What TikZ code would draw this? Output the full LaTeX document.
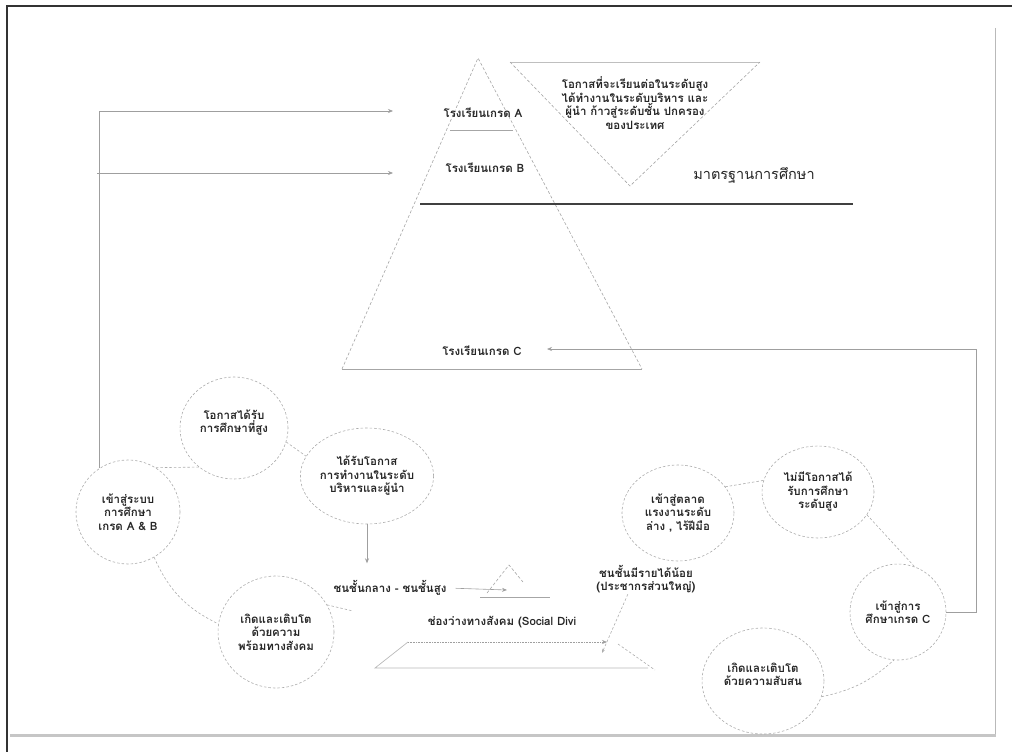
\documentclass[tikz,border=0pt]{standalone}
\usepackage{fontspec}
\newfontfamily\thai[Script=Thai]{Loma}
\usetikzlibrary{shapes.geometric,arrows.meta}

\begin{document}
\begin{tikzpicture}[
  x=1pt, y=-1pt,
  every node/.style={font=\thai\bfseries\fontsize{11.5}{13.5}\selectfont, text=black!85, align=center, inner sep=1pt},
  bubble/.style={ellipse, draw=gray!65, dash pattern=on 2.5pt off 2pt, line width=0.6pt, inner sep=0pt},
  link/.style={draw=gray!65, dash pattern=on 2.5pt off 2pt, line width=0.6pt},
  edge/.style={draw=gray!70, dash pattern=on 3pt off 2pt, line width=0.6pt},
  arr/.style={draw=gray!75, line width=0.6pt, -{Stealth[length=5pt,width=4pt]}},
  rule/.style={draw=gray!70, line width=0.7pt}
]
\useasboundingbox (0,0) rectangle (1018,752);

% frame
\draw[black!80, line width=1.4pt] (7,752) -- (7,6) -- (1012,6);
\draw[gray!55, line width=0.8pt] (995,28) -- (995,735);
\draw[gray!45, line width=3pt] (10,735) -- (996,735);

% pyramid
\coordinate (top) at (478,58);
\coordinate (baseL) at (342,369);
\coordinate (baseR) at (642,369);
\draw[edge] (baseL) -- (top) -- (baseR);
\draw[rule] (baseL) -- (baseR);
\draw[rule] (450,130) -- (513,130);
\draw[gray!50!black, line width=2pt] (420,204) -- (853,204);

% inverted triangle
\coordinate (vL) at (510,62);
\coordinate (vR) at (760,62);
\coordinate (vTip) at (630,186);
\draw[rule, gray!50] (vL) -- (vR);
\draw[edge] (vL) -- (vTip) -- (vR);

\node (gradeA) at (483,113) {โรงเรียนเกรด A};
\node (gradeB) at (485,168) {โรงเรียนเกรด B};
\node (gradeC) at (482,351) {โรงเรียนเกรด C};
\node (chance) at (635,103) {โอกาสที่จะเรียนต่อในระดับสูง\\ได้ทำงานในระดับบริหาร และ\\ผู้นำ ก้าวสู่ระดับชั้น ปกครอง\\ของประเทศ};
\node[font=\thai\fontsize{14.5}{16}\selectfont] (standard) at (754,175) {มาตรฐานการศึกษา};

% circles, left loop
\node[bubble, minimum width=108pt, minimum height=102pt] (cEduHigh) at (234,428) {โอกาสได้รับ\\การศึกษาที่สูง\\~};
\node[bubble, minimum width=126pt, minimum height=96pt] (cLead) at (367,476) {ได้รับโอกาส\\การทำงานในระดับ\\บริหารและผู้นำ};
\node[bubble, minimum width=104pt, minimum height=104pt] (cEnterAB) at (128,512) {เข้าสู่ระบบ\\การศึกษา\\เกรด A \& B};
\node[bubble, minimum width=116pt, minimum height=112pt] (cBornReady) at (276,632) {เกิดและเติบโต\\ด้วยความ\\พร้อมทางสังคม};

% circles, right loop
\node[bubble, minimum width=112pt, minimum height=96pt] (cLabour) at (678,513) {เข้าสู่ตลาด\\แรงงานระดับ\\ล่าง , ไร้ฝีมือ};
\node[bubble, minimum width=112pt, minimum height=92pt] (cNoChance) at (818,492) {ไม่มีโอกาสได้\\รับการศึกษา\\ระดับสูง};
\node[bubble, minimum width=96pt, minimum height=96pt] (cEnterC) at (898,612) {เข้าสู่การ\\ศึกษาเกรด C};
\node[bubble, minimum width=122pt, minimum height=106pt] (cBornConf) at (763,681) {เกิดและเติบโต\\ด้วยความสับสน\\~};

% social classes
\node (middle) at (390,588) {ชนชั้นกลาง - ชนชั้นสูง};
\node (gap) at (502,622) {ช่องว่างทางสังคม (Social Divi};
\node (low) at (646,579) {ชนชั้นมีรายได้น้อย\\(ประชากรส่วนใหญ่)};

% arrows to the schools
\coordinate (endA) at (393,111);
\coordinate (endB) at (393,173);
\coordinate (turnB) at (97,173);
\draw[arr] (cEnterAB.123) |- (endA);
\draw[arr] (turnB) -- (endB);
\coordinate (turnC) at (976,349);
\coordinate (endC) at (547,349);
\draw[arr] (cEnterC.east) -| (turnC) -- (endC);

% left loop links
\draw[link] (cEduHigh.228) -- (cEnterAB.58);
\draw[link] (cEduHigh.345) -- (cLead.162);
\draw[link] (cEnterAB.300) to[bend right=20] (cBornReady.172);
\coordinate (readyTip) at (353,611);
\draw[link] (cBornReady.28) -- (readyTip);
\draw[arr, shorten >=16pt] (cLead.south) -- (cLead.south |- middle.north);

% the gap
\coordinate (miniEnd) at (507,590);
\draw[arr, shorten <=8pt] (middle.east) -- (miniEnd);
\draw[edge] (487,593) -- (509,565) -- (523,582);
\draw[rule] (480,597) -- (550,597);
\coordinate (gapTL) at (408,642);
\coordinate (gapTR) at (607,642);
\coordinate (gapBL) at (375,668);
\coordinate (gapBR) at (648,668);
\draw[rule, gray!55] (gapBR) -- (gapBL) -- (gapTL);
\draw[arr, dash pattern=on 1pt off 0.6pt] (gapTL) -- (gapTR);
\coordinate (lowTip) at (602,653);
\draw[link, -{Stealth[length=4pt,width=3pt]}] (low.220) -- (lowTip);
\coordinate (lowA) at (618,644);
\coordinate (lowB) at (655,670);
\draw[link] (lowA) -- (lowB);

% right loop links
\draw[link] (cLabour.29) -- (cNoChance.168);
\draw[link] (cNoChance.335) -- (cEnterC.70);
\draw[link] (cBornConf.345) to[bend right=15] (cEnterC.265);
\end{tikzpicture}
\end{document}
